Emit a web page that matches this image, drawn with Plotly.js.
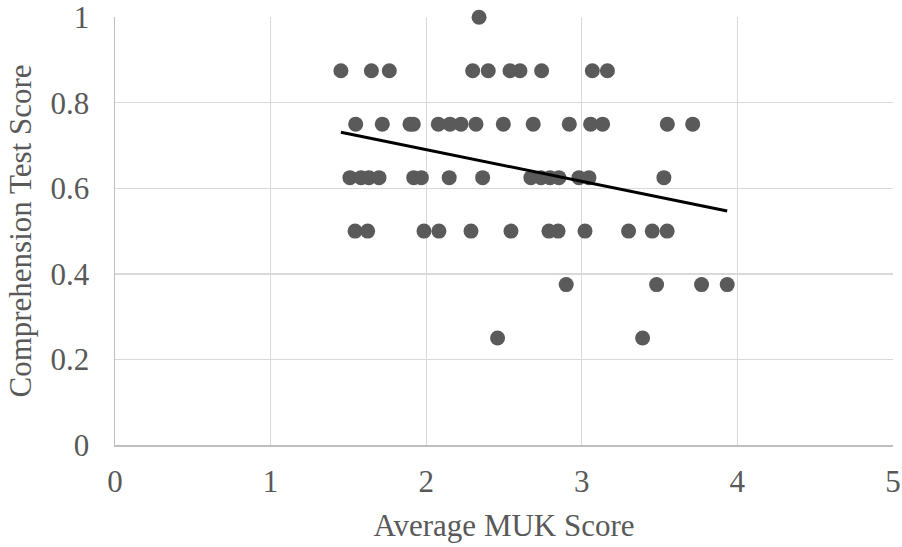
<!DOCTYPE html>
<html>
<head>
<meta charset="utf-8">
<script src="https://cdn.plot.ly/plotly-3.0.1.min.js"></script>
<style>html,body{margin:0;padding:0;background:#fff;}#chart{width:902px;height:547px;}</style>
</head>
<body>
<div id="chart"></div>
<script>
// Average MUK Score (x) and Comprehension Test Score (y)
const mukScore = [
  2.34,
  1.452, 1.648, 1.763, 2.299, 2.399, 2.539, 2.603, 2.742, 3.068, 3.165,
  1.547, 1.718, 1.896, 1.917, 2.078, 2.153, 2.224, 2.320, 2.496, 2.688, 2.920, 3.057, 3.134, 3.550, 3.713,
  1.510, 1.581, 1.632, 1.697, 1.920, 1.969, 2.148, 2.363, 2.673, 2.738, 2.796, 2.853, 2.982, 3.046, 3.528,
  1.543, 1.624, 1.986, 2.082, 2.288, 2.545, 2.789, 2.848, 3.021, 3.301, 3.453, 3.549,
  2.900, 3.481, 3.770, 3.935,
  2.459, 3.391
];
const testScore = [
  1.0,
  0.875, 0.875, 0.875, 0.875, 0.875, 0.875, 0.875, 0.875, 0.875, 0.875,
  0.75, 0.75, 0.75, 0.75, 0.75, 0.75, 0.75, 0.75, 0.75, 0.75, 0.75, 0.75, 0.75, 0.75, 0.75,
  0.625, 0.625, 0.625, 0.625, 0.625, 0.625, 0.625, 0.625, 0.625, 0.625, 0.625, 0.625, 0.625, 0.625, 0.625,
  0.5, 0.5, 0.5, 0.5, 0.5, 0.5, 0.5, 0.5, 0.5, 0.5, 0.5, 0.5,
  0.375, 0.375, 0.375, 0.375,
  0.25, 0.25
];
const xTicks = [0, 1, 2, 3, 4, 5];
const yTicks = [0, 0.2, 0.4, 0.6, 0.8, 1];

// linear trendline computed from the data
const n = mukScore.length;
const mx = mukScore.reduce((a, b) => a + b, 0) / n;
const my = testScore.reduce((a, b) => a + b, 0) / n;
let sxy = 0, sxx = 0;
for (let i = 0; i < n; i++) { sxy += (mukScore[i] - mx) * (testScore[i] - my); sxx += (mukScore[i] - mx) ** 2; }
const slope = sxy / sxx, intercept = my - slope * mx;
const xmin = Math.min(...mukScore), xmax = Math.max(...mukScore);
const trendX = [xmin, xmax];
const trendY = trendX.map(v => intercept + slope * v);

const font = {family: '"Liberation Serif", "Times New Roman", serif', size: 31, color: '#595959'};

Plotly.newPlot('chart', [
  {x: mukScore, y: testScore, type: 'scatter', mode: 'markers', cliponaxis: false,
   marker: {color: '#5a5a5a', size: 15, line: {width: 0}}, hoverinfo: 'x+y'},
  {x: trendX, y: trendY, type: 'scatter', mode: 'lines', cliponaxis: false,
   line: {color: '#000000', width: 3}, hoverinfo: 'skip'}
], {
  width: 902, height: 547,
  margin: {l: 115, r: 9, t: 17, b: 102},
  paper_bgcolor: '#ffffff', plot_bgcolor: '#ffffff',
  showlegend: false,
  font: font,
  xaxis: {
    range: [0, 5.0005], tickvals: xTicks, ticktext: xTicks.map(String),
    showgrid: true, gridcolor: '#d9d9d9', gridwidth: 1.3,
    zeroline: false, showline: true, linecolor: '#bfbfbf', linewidth: 1.5,
    ticks: '', ticklabelstandoff: 8, tickfont: font,
    title: {text: 'Average MUK Score', font: font, standoff: 16}
  },
  yaxis: {
    range: [0, 1.0005], tickvals: yTicks, ticktext: yTicks.map(String),
    showgrid: true, gridcolor: '#d9d9d9', gridwidth: 1.3,
    zeroline: false, showline: true, linecolor: '#bfbfbf', linewidth: 1.5,
    ticks: '', ticklabelstandoff: 18, tickfont: font,
    title: {text: 'Comprehension Test Score', font: font, standoff: 9}
  }
}, {displayModeBar: false, staticPlot: true});
</script>
</body>
</html>
